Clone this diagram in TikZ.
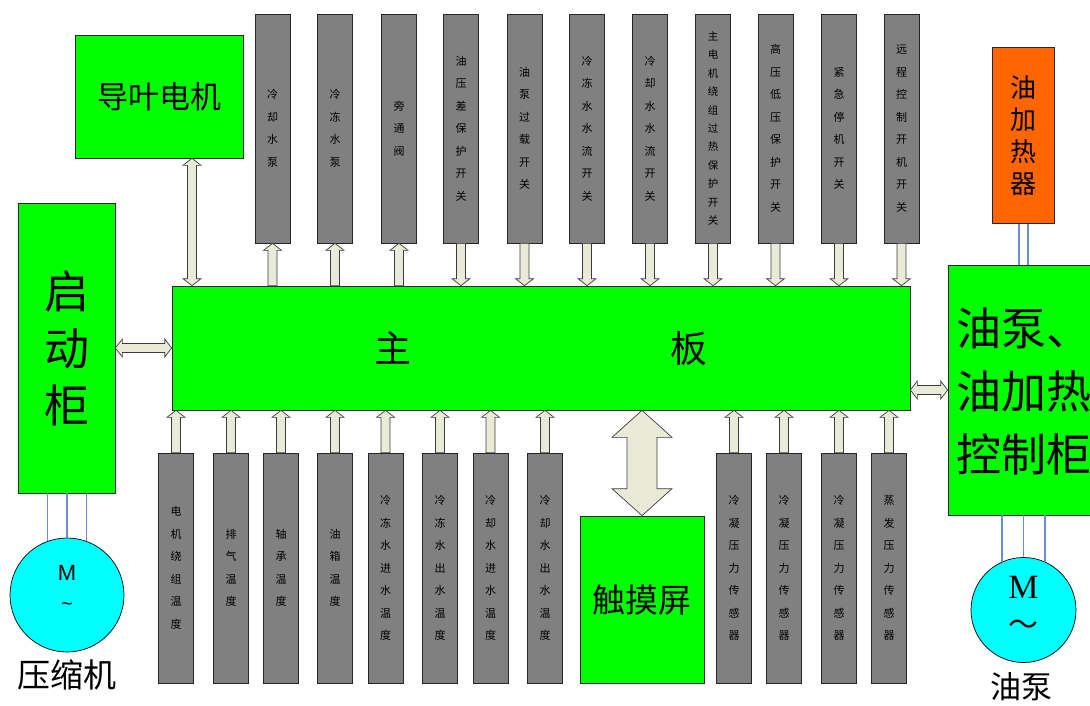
\documentclass[tikz,border=0pt]{standalone}
\usepackage{fontspec}
\newfontfamily\cjk{Noto Sans CJK SC}
\newfontfamily\msans{Liberation Sans}
\newfontfamily\mserif{Liberation Serif}
\usetikzlibrary{calc}
\definecolor{grn}{RGB}{0,255,0}
\definecolor{bargray}{RGB}{128,128,128}
\definecolor{heat}{RGB}{255,102,0}
\definecolor{mot}{RGB}{0,255,255}
\definecolor{wirec}{RGB}{105,140,210}
\definecolor{arrfill}{RGB}{234,234,216}
\definecolor{arrline}{RGB}{60,60,60}
\tikzset{
  fatone/.style n args={3}{to path={let \p1=(\tikztostart), \p2=(\tikztotarget), \n1={atan2(\y2-\y1,\x2-\x1)} in
    ($(\p1)+(\n1+90:#1)$) -- ($(\p2)+(\n1+180:#3)+(\n1+90:#1)$) -- ($(\p2)+(\n1+180:#3)+(\n1+90:#2)$) -- (\p2)
    -- ($(\p2)+(\n1+180:#3)+(\n1-90:#2)$) -- ($(\p2)+(\n1+180:#3)+(\n1-90:#1)$) -- ($(\p1)+(\n1-90:#1)$) -- cycle}},
  fattwo/.style n args={3}{to path={let \p1=(\tikztostart), \p2=(\tikztotarget), \n1={atan2(\y2-\y1,\x2-\x1)} in
    (\p1) -- ($(\p1)+(\n1:#3)+(\n1+90:#2)$) -- ($(\p1)+(\n1:#3)+(\n1+90:#1)$)
    -- ($(\p2)+(\n1+180:#3)+(\n1+90:#1)$) -- ($(\p2)+(\n1+180:#3)+(\n1+90:#2)$) -- (\p2)
    -- ($(\p2)+(\n1+180:#3)+(\n1-90:#2)$) -- ($(\p2)+(\n1+180:#3)+(\n1-90:#1)$)
    -- ($(\p1)+(\n1:#3)+(\n1-90:#1)$) -- ($(\p1)+(\n1:#3)+(\n1-90:#2)$) -- cycle}},
  arrlook/.style={draw=arrline, fill=arrfill, line width=0.7pt, line join=miter},
  sone/.style={arrlook, fatone={4.5pt}{9pt}{7pt}},
  stwo/.style={arrlook, fattwo={4.5pt}{9pt}{7pt}},
  btwo/.style={arrlook, fattwo={15pt}{30pt}{27pt}},
  gbox/.style={draw=black!85, line width=0.7pt, fill=grn, inner sep=0pt, align=center},
  gbar/.style={draw=black!85, line width=0.7pt, fill=bargray, inner sep=0pt, align=center,
    minimum width=35pt, font=\cjk\fontsize{11}{22.5}\selectfont},
  tbar/.style={gbar, minimum height=229pt},
  bbar/.style={gbar, minimum height=230pt},
  motor/.style={circle, draw=black, line width=0.7pt, fill=mot, inner sep=0pt},
  wire/.style={draw=wirec, line width=1.1pt},
}
\begin{document}
\begin{tikzpicture}[x=1pt, y=-1pt]
\useasboundingbox (0,0) rectangle (1090,705);
% top bars
\node[tbar] (t1) at (272.5,128.5) {冷\\却\\水\\泵};
\node[tbar] (t2) at (335,128.5) {冷\\冻\\水\\泵};
\node[tbar] (t3) at (399,128.5) {旁\\通\\阀};
\node[tbar] (t4) at (461,128.5) {油\\压\\差\\保\\护\\开\\关};
\node[tbar] (t5) at (524.5,128.5) {油\\泵\\过\\载\\开\\关};
\node[tbar] (t6) at (587,128.5) {冷\\冻\\水\\水\\流\\开\\关};
\node[tbar] (t7) at (650,128.5) {冷\\却\\水\\水\\流\\开\\关};
\node[tbar, font=\cjk\fontsize{10.5}{18.4}\selectfont] (t8) at (713,128.5) {主\\电\\机\\绕\\组\\过\\热\\保\\护\\开\\关};
\node[tbar] (t9) at (775.5,128.5) {高\\压\\低\\压\\保\\护\\开\\关};
\node[tbar] (t10) at (839,128.5) {紧\\急\\停\\机\\开\\关};
\node[tbar] (t11) at (901.5,128.5) {远\\程\\控\\制\\开\\机\\开\\关};
% bottom bars
\node[bbar] (b1) at (176,568) {电\\机\\绕\\组\\温\\度};
\node[bbar] (b2) at (231,568) {排\\气\\温\\度};
\node[bbar] (b3) at (281,568) {轴\\承\\温\\度};
\node[bbar] (b4) at (335,568) {油\\箱\\温\\度};
\node[bbar] (b5) at (385.5,568) {冷\\冻\\水\\进\\水\\温\\度};
\node[bbar] (b6) at (440,568) {冷\\冻\\水\\出\\水\\温\\度};
\node[bbar] (b7) at (490.5,568) {冷\\却\\水\\进\\水\\温\\度};
\node[bbar] (b8) at (545,568) {冷\\却\\水\\出\\水\\温\\度};
\node[bbar] (b9) at (734,568) {冷\\凝\\压\\力\\传\\感\\器};
\node[bbar] (b10) at (784,568) {冷\\凝\\压\\力\\传\\感\\器};
\node[bbar] (b11) at (839,568) {冷\\凝\\压\\力\\传\\感\\器};
\node[bbar] (b12) at (889,568) {蒸\\发\\压\\力\\传\\感\\器};
% main blocks
\node[gbox, minimum width=738pt, minimum height=124pt, font=\cjk\fontsize{37}{40}\selectfont] (main) at (541,348) {主\hspace{259pt}板};
\node[gbox, minimum width=168pt, minimum height=123pt, font=\cjk\fontsize{31}{34}\selectfont] (guide) at (159,96.5) {导叶电机};
\node[gbox, minimum width=97pt, minimum height=290pt, font=\cjk\fontsize{45}{57}\selectfont] (start) at (66.5,348) {启\\动\\柜};
\node[gbox, minimum width=124pt, minimum height=167pt, font=\cjk\fontsize{33}{36}\selectfont] (touch) at (642,599.5) {触摸屏};
\node[draw=black!85, line width=0.7pt, fill=heat, inner sep=0pt, align=center, minimum width=62pt, minimum height=176pt,
      font=\cjk\fontsize{26}{32}\selectfont] (heater) at (1023.5,135.5) {油\\加\\热\\器};
\node[gbox, minimum width=142pt, minimum height=250pt] (cab) at (1019,390) {};
\node[anchor=west, inner sep=0pt, align=left, font=\cjk\fontsize{45}{63}\selectfont] (cabtext) at (956,391) {油泵、\\油加热\\控制柜};
% motors
\node[motor, minimum size=114pt] (motL) at (67,595) {};
\node[font=\msans\fontsize{22}{24}\selectfont, inner sep=0pt] (mL) at ($(motL.center)+(0,-22)$) {M};
\node[font=\msans\fontsize{20}{22}\selectfont, inner sep=0pt] (tL) at ($(motL.center)+(0,12)$) {\char`\~};
\node[font=\cjk\fontsize{33}{36}\selectfont, inner sep=0pt] (labL) at (67,675) {压缩机};
\node[motor, minimum size=105pt] (motR) at (1023.5,610) {};
\node[font=\mserif\fontsize{34}{36}\selectfont, inner sep=0pt] (mR) at ($(motR.center)+(0,-23)$) {M};
\node[font=\cjk\fontsize{30}{32}\selectfont, inner sep=0pt] (tR) at ($(motR.center)+(0,18)$) {～};
\node[font=\cjk\fontsize{31}{34}\selectfont, inner sep=0pt] (labR) at (1021,687) {油泵};
% wires
\foreach \a in {110,90,70} \draw[wire] (start.south -| motL.\a) -- (motL.\a);
\foreach \a in {114,90,66} \draw[wire] (cab.south -| motR.\a) -- (motR.\a);
\coordinate (h1) at ($(heater.south)+(-4.5,0)$);
\coordinate (h2) at ($(heater.south)+(4.5,0)$);
\draw[wire] (h1) -- (h1 |- cab.north);
\draw[wire] (h2) -- (h2 |- cab.north);
% arrows
\foreach \bb in {t1,t2,t3} \draw[sone] (main.north -| \bb.south) to (\bb.south);
\foreach \bb in {t4,t5,t6,t7,t8,t9,t10,t11} \draw[sone] (\bb.south) to (main.north -| \bb.south);
\foreach \bb in {b1,b2,b3,b4,b5,b6,b7,b8,b9,b10,b11,b12} \draw[sone] (\bb.north) to (main.south -| \bb.north);
\coordinate (gx) at ($(guide.south)+(33,0)$);
\draw[stwo] (gx) to (main.north -| gx);
\draw[stwo] (start.east) to (main.west |- start.east);
\draw[stwo] (main.east |- 0,390) to (cab.west |- 0,390);
\draw[btwo] (main.south -| touch.north) to (touch.north);
\end{tikzpicture}
\end{document}
